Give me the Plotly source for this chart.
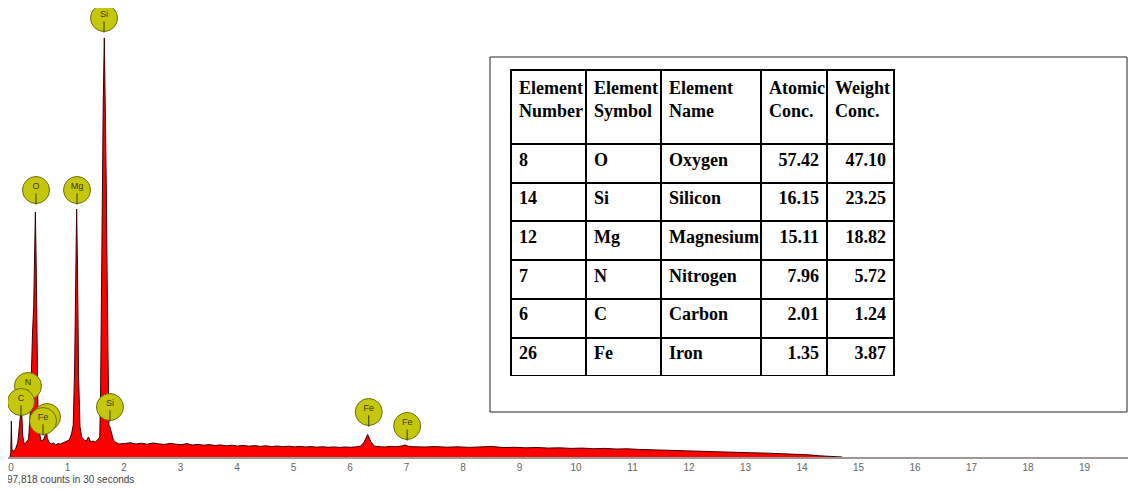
import plotly.graph_objects as go

# ---------------- spectrum (keV, counts) ----------------
energy_kev = [
    0.07, 0.085, 0.095, 0.105, 0.13, 0.17, 0.21, 0.24, 0.265, 0.28, 0.295, 0.32,
    0.35, 0.38, 0.40, 0.43, 0.45, 0.47, 0.49, 0.505, 0.52, 0.535, 0.55, 0.565,
    0.59, 0.62, 0.66, 0.69, 0.71, 0.73, 0.76, 0.80, 0.84, 0.88, 0.92, 0.96,
    1.00, 1.04, 1.08, 1.12, 1.16, 1.19, 1.215, 1.235, 1.25, 1.265, 1.285, 1.31,
    1.34, 1.38, 1.42, 1.46, 1.50, 1.54, 1.58, 1.62, 1.66, 1.675, 1.69, 1.705,
    1.72, 1.74, 1.76, 1.775, 1.79, 1.805, 1.82, 1.84, 1.87, 1.90, 1.93, 1.96, 2.00,
    2.1, 2.2, 2.3, 2.4, 2.5, 2.6, 2.7, 2.8, 2.9, 3.0, 3.1, 3.2, 3.3, 3.4, 3.5,
    3.6, 3.7, 3.8, 3.9, 4.0, 4.1, 4.2, 4.3, 4.4, 4.5, 4.6, 4.7, 4.8, 4.9, 5.0,
    5.1, 5.2, 5.3, 5.4, 5.5, 5.6, 5.7, 5.8, 5.9, 6.0, 6.1, 6.2, 6.28, 6.34,
    6.40, 6.46, 6.52, 6.6, 6.7, 6.8, 6.9, 7.0, 7.06, 7.12, 7.2,
    7.4, 7.6, 7.8, 8.0, 8.2, 8.4, 8.6, 8.8, 9.0, 9.2, 9.4, 9.6, 9.8, 10.0,
    10.2, 10.4, 10.6, 10.8, 11.0, 11.2, 11.4, 11.6, 11.8, 12.0, 12.2, 12.4,
    12.6, 12.8, 13.0, 13.2, 13.4, 13.6, 13.8, 14.0, 14.2, 14.4, 14.6, 14.8,
]
counts = [
    0, 40, 360, 70, 60, 80, 150, 320, 470, 430, 220, 130,
    140, 165, 180, 450, 900, 1250, 1500, 2100, 2450, 1900, 1100, 500,
    250, 160, 170, 210, 300, 190, 150, 130, 140, 120, 135, 130,
    140, 150, 160, 170, 230, 320, 900, 1900, 2480, 1900, 800, 300,
    200, 170, 160, 200, 150, 160, 150, 170, 200, 700, 1800, 2700,
    3500, 4190, 3500, 2700, 1800, 700, 320, 300, 220, 170, 150, 140, 130,
    135, 142, 130, 138, 128, 140, 132, 125, 136, 128, 122, 134, 120, 126, 118,
    124, 115, 121, 112, 118, 110, 116, 108, 114, 106, 112, 104, 110, 103, 108,
    101, 106, 100, 104, 98, 103, 97, 101, 96, 100, 97, 102, 110, 150,
    225, 150, 108, 104, 100, 106, 102, 110, 120, 108, 103,
    100, 104, 98, 102, 96, 100, 106, 94, 97, 92, 95, 89, 92, 86,
    89, 83, 86, 80, 82, 76, 72, 74, 64, 60, 62, 55,
    52, 50, 45, 42, 40, 36, 32, 30, 22, 12, 4, 0,
]

# ---------------- element markers ----------------
# back row (drawn first, partly hidden by the others)
back_labels = ["N", "Fe"]
back_label_visible = [True, False]  # the back Fe label is hidden behind the front Fe circle
back_kev = [0.389, 0.726]
back_counts = [710, 400]
# front row
front_labels = ["Si", "O", "Mg", "C", "Fe", "Si", "Fe", "Fe"]
front_label_visible = [True] * len(front_labels)
front_kev = [1.735, 0.531, 1.257, 0.265, 0.655, 1.84, 6.42, 7.10]
front_counts = [4390, 2670, 2670, 550, 360, 500, 450, 310]

# ---------------- axis ----------------
tick_values = [0, 1, 2, 3, 4, 5, 6, 7, 8, 9, 10, 11, 12, 13, 14, 15, 16, 17, 18, 19]
tick_labels = ["0", "1", "2", "3", "4", "5", "6", "7", "8", "9", "10", "11",
               "12", "13", "14", "15", "16", "17", "18", "19"]
counts_note = "97,818 counts in 30 seconds"

# ---------------- table ----------------
table_headers = ["Element<br>Number", "Element<br>Symbol", "Element<br>Name",
                 "Atomic<br>Conc.", "Weight<br>Conc."]
element_number = ["8", "14", "12", "7", "6", "26"]
element_symbol = ["O", "Si", "Mg", "N", "C", "Fe"]
element_name = ["Oxygen", "Silicon", "Magnesium", "Nitrogen", "Carbon", "Iron"]
atomic_conc = ["57.42", "16.15", "15.11", "7.96", "2.01", "1.35"]
weight_conc = ["47.10", "23.25", "18.82", "5.72", "1.24", "3.87"]

# page is rendered with an 8px body margin -> figure is 8px smaller, all offsets -8
W, H = 1128, 481
MB = 32
PH = H - MB  # 449
PX_PER_KEV = 56.5
LABEL_OFFSET = 5 / PX_PER_KEV  # labels in the original sit slightly right of the ticks


def px(sx):
    return (sx - 8) / W


def py(sy):
    return (457 - sy) / PH


fig = go.Figure()

fig.add_trace(go.Scatter(
    x=energy_kev, y=counts, mode="lines", fill="tozeroy",
    fillcolor="rgb(255,0,0)", line=dict(color="#3a0000", width=1),
    hoverinfo="skip", showlegend=False,
))


def add_markers(labels, visible, kev, cnt):
    fig.add_trace(go.Scatter(
        x=kev, y=cnt, mode="markers",
        marker=dict(size=27, color="#c5c70c", line=dict(color="#6e6e10", width=1)),
        hoverinfo="skip", showlegend=False,
    ))
    tx = [k for k, v in zip(kev, visible) if v]
    ty = [c + 30 for c, v in zip(cnt, visible) if v]
    tt = [l for l, v in zip(labels, visible) if v]
    fig.add_trace(go.Scatter(
        x=tx, y=ty, mode="text",
        text=tt, textposition="middle center",
        textfont=dict(size=9, color="#3a3a10", family="Liberation Sans"),
        hoverinfo="skip", showlegend=False,
    ))
    fig.add_trace(go.Scatter(
        x=kev, y=[c - 90 for c in cnt], mode="markers",
        marker=dict(symbol="line-ns", size=8, line=dict(color="#3a3a10", width=1)),
        hoverinfo="skip", showlegend=False,
    ))


add_markers(back_labels, back_label_visible, back_kev, back_counts)
add_markers(front_labels, front_label_visible, front_kev, front_counts)

tfont = dict(family="Liberation Serif", size=18, color="black", weight="bold")
fig.add_trace(go.Table(
    domain=dict(x=[px(511), px(894)], y=[py(376), py(70)]),
    columnwidth=[75, 75, 100, 66, 67],
    header=dict(
        values=table_headers, align="left", height=74,
        fill_color="white", line=dict(color="black", width=2), font=tfont,
    ),
    cells=dict(
        values=[element_number, element_symbol, element_name, atomic_conc, weight_conc],
        align=["left", "left", "left", "right", "right"], height=38.7,
        fill_color="white", line=dict(color="black", width=2), font=tfont,
    ),
))

fig.add_shape(type="rect", xref="paper", yref="paper",
              x0=px(490), x1=px(1127), y0=py(412), y1=py(57),
              line=dict(color="#222", width=1), fillcolor="white", layer="below")

fig.add_annotation(text=counts_note, xref="paper", yref="paper",
                   x=px(5), y=py(479), xanchor="left", yanchor="middle",
                   showarrow=False, font=dict(size=10, color="#444", family="Liberation Sans"))

fig.update_layout(
    width=W, height=H, margin=dict(l=0, r=0, t=0, b=MB),
    paper_bgcolor="white", plot_bgcolor="white",
    xaxis=dict(range=[2 / PX_PER_KEV, 1130 / PX_PER_KEV],
               tickvals=[v + LABEL_OFFSET for v in tick_values], ticktext=tick_labels,
               showgrid=False, zeroline=False, showline=True, linecolor="#a09696",
               linewidth=2, ticks="",
               tickfont=dict(size=10, color="#666", family="Liberation Sans")),
    yaxis=dict(range=[0, PH * 10], visible=False, showgrid=False, zeroline=False),
)

fig.write_html("out.html")
